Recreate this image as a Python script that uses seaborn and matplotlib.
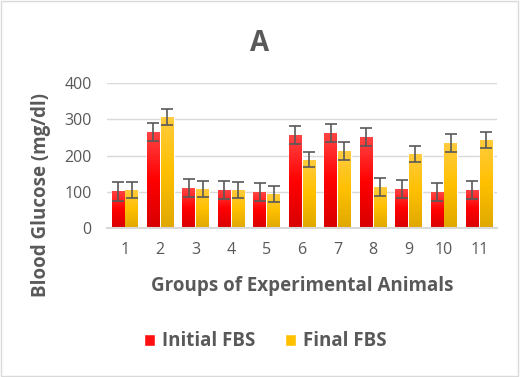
import matplotlib
matplotlib.use("Agg")
import matplotlib.pyplot as plt
import seaborn as sns
import pandas as pd
import numpy as np
from matplotlib.patches import Rectangle
from matplotlib.colors import LinearSegmentedColormap

groups = ['1', '2', '3', '4', '5', '6', '7', '8', '9', '10', '11']
initial_fbs = [102, 265, 110, 105, 99, 256, 262, 251, 108, 99, 105]
final_fbs = [105, 306, 108, 105, 94, 188, 212, 113, 204, 234, 243]
initial_err = [26, 24, 24, 24, 24, 24, 24, 24, 24, 24, 24]
final_err = [22, 21, 23, 21, 21, 21, 24, 24, 21, 24, 21]

df = pd.DataFrame({
    'Group': groups * 2,
    'FBS': initial_fbs + final_fbs,
    'Series': ['Initial FBS'] * len(groups) + ['Final FBS'] * len(groups),
})
errs = initial_err + final_err

sns.set_style("white")
plt.rcParams['font.family'] = ['Open Sans', 'DejaVu Sans']
grey = '#595959'

fig = plt.figure(figsize=(5.2, 3.77), dpi=100)
ax = fig.add_axes([0.206, 0.395, 0.75, 0.385])

my_colors = {'Initial FBS': '#FF1010', 'Final FBS': '#FFC000'}
sns.barplot(data=df, x='Group', y='FBS', hue='Series', palette=my_colors,
            width=0.78, gap=0.08, saturation=1, ax=ax, legend=True)

ax.set_ylim(0, 400)
ax.set_xlim(-0.5, len(groups) - 0.5)

# vertical gradient on each bar, like the office style fill
grads = {'#FF1010': ['#D80000', '#FF0000', '#FF4545'],
         '#FFC000': ['#E0A800', '#FFC000', '#FFCC40']}
bars = [p for p in ax.patches if p.get_height() > 0][:len(errs)]
for p in bars:
    key = matplotlib.colors.to_hex(p.get_facecolor()).upper()
    cmap = LinearSegmentedColormap.from_list('g', grads.get(key, grads['#FF1010']))
    x0, w, h = p.get_x(), p.get_width(), p.get_height()
    im = ax.imshow(np.linspace(0, 1, 64).reshape(-1, 1), cmap=cmap, aspect='auto',
                   origin='lower', extent=(x0, x0 + w, 0, h), zorder=p.get_zorder())
    im.set_clip_path(p)

# error bars at bar centres, in the same order as the bars were drawn
for p, e in zip(bars, errs):
    ax.errorbar(p.get_x() + p.get_width() / 2, p.get_height(), yerr=e,
                fmt='none', ecolor=grey, elinewidth=1.2, capsize=4.5, capthick=1.2, zorder=5)

ax.set_ylim(0, 400)
ax.set_xlim(-0.5, len(groups) - 0.5)
ax.set_yticks([0, 100, 200, 300, 400])
ax.grid(axis='y', color='#D9D9D9', linewidth=1)
ax.set_axisbelow(True)
for s in ['top', 'right', 'left']:
    ax.spines[s].set_visible(False)
ax.spines['bottom'].set_color('#D9D9D9')
ax.spines['bottom'].set_linewidth(1.5)
ax.tick_params(axis='y', length=0, labelsize=11.5, labelcolor=grey, pad=11)
ax.tick_params(axis='x', length=0, labelsize=11.5, labelcolor=grey, pad=10)

ax.set_xlabel('Groups of Experimental Animals', fontsize=13.5, fontweight='bold', color=grey)
ax.set_ylabel('Blood Glucose (mg/dl)', fontsize=13.5, fontweight='bold', color=grey)
ax.xaxis.set_label_coords(0.5, -0.33)
ax.yaxis.set_label_coords(-0.144, 0.23)
fig.text(0.5, 0.885, 'A', ha='center', va='center', fontsize=20, fontweight='bold', color=grey)

ax.legend(loc='center', bbox_to_anchor=(0.405, -0.78), ncol=2, frameon=False,
          handlelength=0.6, handleheight=0.6, handletextpad=0.35,
          columnspacing=1.6, labelcolor=grey,
          prop={'weight': 'bold', 'size': 13.5})

fig.patches.append(Rectangle((0.002, 0.003), 0.995, 0.994, transform=fig.transFigure,
                             fill=False, edgecolor='#D9D9D9', linewidth=1))

fig.savefig('out.png', dpi=100)
